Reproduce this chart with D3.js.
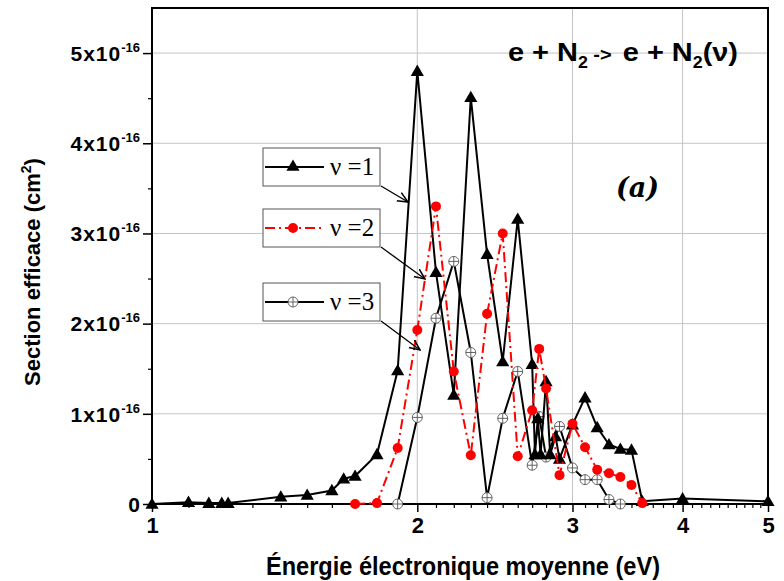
<!DOCTYPE html>
<html>
<head>
<meta charset="utf-8">
<script src="https://cdn.jsdelivr.net/npm/d3@7"></script>
<style>
  html, body { margin: 0; padding: 0; background: #fff; }
  svg { display: block; }
</style>
</head>
<body>
<div id="chart"></div>
<script>
// Energy (eV) and cross-section (units of 1e-16 cm^2)
const v1Energy = [1.0, 1.1, 1.16, 1.2, 1.22, 1.4, 1.5, 1.6, 1.65, 1.7, 1.8, 1.9, 2.0, 2.1, 2.2, 2.3, 2.4, 2.5, 2.6, 2.7, 2.72, 2.74, 2.76, 2.8, 2.83, 2.87, 2.9, 3.0, 3.1, 3.2, 3.3, 3.4, 3.5, 3.6, 4.0, 5.0];
const v1Sigma  = [0.0, 0.02, 0.01, 0.01, 0.01, 0.08, 0.10, 0.15, 0.28, 0.31, 0.55, 1.48, 4.80, 2.57, 1.21, 4.51, 2.77, 1.58, 3.16, 1.55, 0.55, 0.95, 0.55, 1.36, 0.55, 0.75, 0.50, 0.88, 1.18, 0.85, 0.66, 0.61, 0.60, 0.03, 0.06, 0.03];

const v2Energy = [1.7, 1.8, 1.9, 2.0, 2.1, 2.2, 2.3, 2.4, 2.5, 2.6, 2.7, 2.75, 2.8, 2.9, 3.0, 3.1, 3.2, 3.3, 3.4, 3.5, 3.6];
const v2Sigma  = [0.0, 0.01, 0.62, 1.93, 3.30, 1.47, 0.54, 2.11, 3.00, 0.53, 1.04, 1.72, 1.28, 0.32, 0.89, 0.63, 0.38, 0.34, 0.30, 0.21, 0.01];

const v3Energy = [1.9, 2.0, 2.1, 2.2, 2.3, 2.4, 2.5, 2.6, 2.7, 2.75, 2.8, 2.9, 3.0, 3.1, 3.2, 3.3, 3.4];
const v3Sigma  = [0.0, 0.96, 2.06, 2.69, 1.68, 0.07, 0.95, 1.47, 0.43, 0.97, 0.52, 0.86, 0.40, 0.27, 0.27, 0.05, 0.0];

const xTicks = [1, 2, 3, 4, 5];
const yTicks = [0, 1, 2, 3, 4, 5];
const legendLabels = ["ν =1", "ν =2", "ν =3"];

const W = 784, H = 581;
const margin = { top: 8, right: 16, bottom: 77, left: 152 };
const sans = "Arial, 'Liberation Sans', sans-serif";
const serif = "'Times New Roman', 'Liberation Serif', serif";

const svg = d3.select("#chart").append("svg")
    .attr("width", W)
    .attr("height", H);

const x = d3.scaleLog().domain([1, 5]).range([margin.left, W - margin.right]);
const y = d3.scaleLinear().domain([0, 5.5]).range([H - margin.bottom, margin.top]);

// Grid
const grid = svg.append("g");
grid.selectAll(".vg").data([2, 3, 4]).enter().append("line")
    .attr("x1", d => x(d)).attr("x2", d => x(d))
    .attr("y1", y(0)).attr("y2", y(5.5))
    .attr("stroke", "#c4c4c4").attr("stroke-width", 1);
grid.selectAll(".hg").data([1, 2, 3, 4, 5]).enter().append("line")
    .attr("x1", x(1)).attr("x2", x(5))
    .attr("y1", d => y(d)).attr("y2", d => y(d))
    .attr("stroke", "#c4c4c4").attr("stroke-width", 1);

// Axes
const minorX = d3.range(11, 50).map(d => d / 10).filter(d => Math.round(d * 10) % 10 !== 0);
svg.append("g")
    .attr("transform", `translate(0,${y(0)})`)
    .call(d3.axisBottom(x).tickValues(minorX).tickSize(4).tickFormat(""))
    .call(g => g.select(".domain").remove())
    .call(g => g.selectAll("line").attr("stroke-width", 1.2));
svg.append("g")
    .attr("transform", `translate(0,${y(0)})`)
    .call(d3.axisBottom(x).tickValues(xTicks).tickSize(8).tickPadding(5).tickFormat(d3.format("d")))
    .call(g => g.select(".domain").remove())
    .call(g => g.selectAll("line").attr("stroke-width", 1.5))
    .call(g => g.selectAll("text")
        .attr("font-family", sans).attr("font-weight", "bold")
        .attr("font-size", "22px").attr("fill", "#000"));

svg.append("g")
    .attr("transform", `translate(${x(1)},0)`)
    .call(d3.axisLeft(y).tickValues([0.5, 1.5, 2.5, 3.5, 4.5]).tickSize(4).tickFormat(""))
    .call(g => g.select(".domain").remove())
    .call(g => g.selectAll("line").attr("stroke-width", 1.2));
const yAxis = svg.append("g")
    .attr("transform", `translate(${x(1)},0)`)
    .call(d3.axisLeft(y).tickValues(yTicks).tickSize(9).tickPadding(5).tickFormat(""))
    .call(g => g.select(".domain").remove())
    .call(g => g.selectAll("line").attr("stroke-width", 1.5));

yAxis.selectAll(".tick").each(function (d) {
    const t = d3.select(this).append("text")
        .attr("x", -12).attr("dy", "0.35em")
        .attr("text-anchor", "end")
        .attr("fill", "#000")
        .attr("font-family", sans).attr("font-weight", "bold")
        .attr("font-size", "21px");
    if (d === 0) {
        t.text("0");
    } else {
        t.append("tspan").attr("letter-spacing", "1px").text(d + "x10");
        t.append("tspan").attr("font-size", "13px").attr("dy", "-9").text("-16");
    }
});

// Frame
svg.append("rect")
    .attr("x", x(1)).attr("y", y(5.5))
    .attr("width", x(5) - x(1)).attr("height", y(0) - y(5.5))
    .attr("fill", "none").attr("stroke", "#000").attr("stroke-width", 2);

// Series
const line = d3.line().x(d => x(d[0])).y(d => y(d[1]));
const s1 = d3.zip(v1Energy, v1Sigma);
const s2 = d3.zip(v2Energy, v2Sigma);
const s3 = d3.zip(v3Energy, v3Sigma);

const triangle = d3.symbol().type(d3.symbolTriangle).size(75);

function drawCrossCircle(g, cx, cy, r) {
    g.append("circle").attr("cx", cx).attr("cy", cy).attr("r", r)
        .attr("fill", "#fff").attr("stroke", "#555").attr("stroke-width", 0.9);
    g.append("line").attr("x1", cx - r).attr("x2", cx + r).attr("y1", cy).attr("y2", cy)
        .attr("stroke", "#555").attr("stroke-width", 0.9);
    g.append("line").attr("x1", cx).attr("x2", cx).attr("y1", cy - r).attr("y2", cy + r)
        .attr("stroke", "#555").attr("stroke-width", 0.9);
}

// v=3
svg.append("path").datum(s3).attr("d", line)
    .attr("fill", "none").attr("stroke", "#000").attr("stroke-width", 2);
const m3 = svg.append("g");
s3.forEach(d => drawCrossCircle(m3, x(d[0]), y(d[1]), 5));

// v=1
svg.append("path").datum(s1).attr("d", line)
    .attr("fill", "none").attr("stroke", "#000").attr("stroke-width", 2);
svg.append("g").selectAll("path").data(s1).enter().append("path")
    .attr("d", triangle)
    .attr("transform", d => `translate(${x(d[0])},${y(d[1]) + 1})`)
    .attr("fill", "#000");

// v=2
svg.append("path").datum(s2).attr("d", line)
    .attr("fill", "none").attr("stroke", "#ff0000").attr("stroke-width", 2)
    .attr("stroke-dasharray", "10,4,2,4");
svg.append("g").selectAll("circle").data(s2).enter().append("circle")
    .attr("cx", d => x(d[0])).attr("cy", d => y(d[1])).attr("r", 5)
    .attr("fill", "#ff0000");

// Legend boxes with arrows
const boxes = [
    { y: 148, tip: [408, 202] },
    { y: 209, tip: [425, 279] },
    { y: 283, tip: [420, 350] }
];
const defs = svg.append("defs");
defs.append("marker")
    .attr("id", "arrow").attr("viewBox", "0 0 10 10")
    .attr("refX", 9).attr("refY", 5)
    .attr("markerWidth", 9).attr("markerHeight", 9)
    .attr("orient", "auto")
    .append("path").attr("d", "M0,1 L9,5 L0,9")
    .attr("fill", "none").attr("stroke", "#000").attr("stroke-width", 1.3);

boxes.forEach((b, i) => {
    const g = svg.append("g");
    g.append("rect")
        .attr("x", 263).attr("y", b.y).attr("width", 117).attr("height", 38)
        .attr("fill", "#fff").attr("stroke", "#555").attr("stroke-width", 1);
    const ly = b.y + 19;
    const ln = g.append("line")
        .attr("x1", 265).attr("x2", 324).attr("y1", ly).attr("y2", ly)
        .attr("stroke", i === 1 ? "#ff0000" : "#000").attr("stroke-width", 2);
    if (i === 1) {
        ln.attr("stroke-dasharray", "10,4,2,4");
        g.append("circle").attr("cx", 293).attr("cy", ly).attr("r", 5).attr("fill", "#ff0000");
    } else if (i === 0) {
        g.append("path").attr("d", triangle)
            .attr("transform", `translate(293,${ly})`).attr("fill", "#000");
    } else {
        drawCrossCircle(g, 293, ly, 5);
    }
    g.append("text")
        .attr("x", 330).attr("y", ly + 8)
        .attr("font-family", serif).attr("font-size", "25px").attr("fill", "#000")
        .text(legendLabels[i]);
    g.append("line")
        .attr("x1", 381).attr("y1", b.y + 38)
        .attr("x2", b.tip[0]).attr("y2", b.tip[1])
        .attr("stroke", "#000").attr("stroke-width", 1.3)
        .attr("marker-end", "url(#arrow)");
});

// Title
const title = svg.append("text")
    .attr("x", 508).attr("y", 61)
    .attr("font-family", sans).attr("font-weight", "bold")
    .attr("font-size", "26px").attr("fill", "#000")
    .attr("textLength", 230).attr("lengthAdjust", "spacingAndGlyphs");
title.append("tspan").text("e + N");
title.append("tspan").attr("font-size", "16px").attr("dy", 7).text("2");
title.append("tspan").attr("dy", -7).attr("font-size", "18px").text(" ->");
title.append("tspan").attr("dx", 10).text("e + N");
title.append("tspan").attr("font-size", "16px").attr("dy", 7).text("2");
title.append("tspan").attr("dy", -7).text("(ν)");

// Panel label
svg.append("text")
    .attr("x", 616).attr("y", 197)
    .attr("font-family", "'DejaVu Serif', 'Liberation Serif', serif")
    .attr("font-style", "italic").attr("font-weight", "bold")
    .attr("font-size", "27px").attr("fill", "#000")
    .text("(a)");

// Axis titles
svg.append("text")
    .attr("x", 463).attr("y", 575)
    .attr("text-anchor", "middle")
    .attr("font-family", sans).attr("font-weight", "bold")
    .attr("font-size", "25px").attr("fill", "#000")
    .attr("textLength", 394).attr("lengthAdjust", "spacingAndGlyphs")
    .text("Énergie électronique moyenne (eV)");

const yt = svg.append("text")
    .attr("transform", `translate(40,272) rotate(-90)`)
    .attr("text-anchor", "middle")
    .attr("font-family", sans).attr("font-weight", "bold")
    .attr("font-size", "22px").attr("fill", "#000");
yt.append("tspan").text("Section efficace (cm");
yt.append("tspan").attr("font-size", "14px").attr("dy", -9).text("2");
yt.append("tspan").attr("dy", 9).text(")");
</script>
</body>
</html>
